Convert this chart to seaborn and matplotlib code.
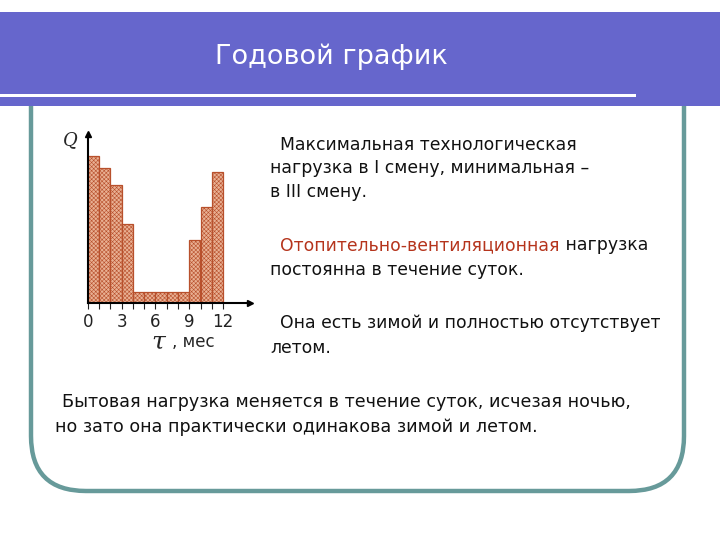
import matplotlib
matplotlib.use("Agg")
import matplotlib.pyplot as plt
from matplotlib.patches import Rectangle, FancyBboxPatch
import numpy as np
import pandas as pd
import seaborn as sns

# ---- data ----
months = [0.5, 1.5, 2.5, 3.5, 4.5, 5.5, 6.5, 7.5, 8.5, 9.5, 10.5, 11.5]
load_q = [147, 135, 118, 79, 11, 11, 11, 11, 11, 63, 96, 131]
tick_vals = [0, 3, 6, 9, 12]
tick_labels = ["0", "3", "6", "9", "12"]

title = "Годовой график"
lines_top = ["Максимальная технологическая",
             "нагрузка в I смену, минимальная –",
             "в III смену."]
red_part = "Отопительно-вентиляционная"
lines_mid = [" нагрузка", "постоянна в течение суток."]
lines_low = ["Она есть зимой и полностью отсутствует", "летом."]
lines_bottom = ["Бытовая нагрузка меняется в течение суток, исчезая ночью,",
                "но зато она практически одинакова зимой и летом."]

sns.set_style("white")
plt.rcParams["font.family"] = ["DejaVu Sans"]
plt.rcParams["hatch.linewidth"] = 0.4

fig = plt.figure(figsize=(7.2, 5.4), dpi=100)
bg = fig.add_axes([0, 0, 1, 1])
bg.set_xlim(0, 720)
bg.set_ylim(540, 0)
bg.axis("off")

# frame (rounded, teal)
frame = FancyBboxPatch((31, 20), 653, 471, boxstyle="round,pad=0,rounding_size=55",
                       fill=False, edgecolor="#679a9a", linewidth=3.2, zorder=1)
bg.add_patch(frame)
# banner
bg.add_patch(Rectangle((0, 12), 720, 94, facecolor="#6666cc", edgecolor="none", zorder=2))
bg.add_patch(Rectangle((0, 93.5), 636, 3.5, facecolor="white", edgecolor="none", zorder=3))
bg.text(331, 57, title, color="white", fontsize=19.5, ha="center", va="center", zorder=4)

fs = 12.4
for y, s, x in zip([145, 168, 192], lines_top, [280, 270, 270]):
    bg.text(x, y, s, fontsize=fs, ha="left", va="center", color="#111111")

t_red = bg.text(280, 245, red_part, fontsize=fs, ha="left", va="center", color="#b5341c")
fig.canvas.draw()
bb = t_red.get_window_extent(fig.canvas.get_renderer())
x_end = bb.x1 * 720 / fig.bbox.width
bg.text(x_end, 245, lines_mid[0], fontsize=fs, ha="left", va="center", color="#111111")
bg.text(270, 270, lines_mid[1], fontsize=fs, ha="left", va="center", color="#111111")
bg.text(280, 323, lines_low[0], fontsize=fs, ha="left", va="center", color="#111111")
bg.text(270, 348, lines_low[1], fontsize=fs, ha="left", va="center", color="#111111")
bg.text(62, 402, lines_bottom[0], fontsize=12.6, ha="left", va="center", color="#111111")
bg.text(55, 427, lines_bottom[1], fontsize=12.6, ha="left", va="center", color="#111111")

# axis labels of chart (slide text)
bg.text(70, 140, "Q", fontsize=13, style="italic", family="DejaVu Serif", ha="center", va="center")
bg.text(158, 342, "τ", fontsize=18, style="italic", family="DejaVu Serif", ha="center", va="center")
bg.text(172, 342, ", мес", fontsize=12, ha="left", va="center")

# ---- chart ----
px_per_month = 11.28
ax = fig.add_axes([87.7 / 720, (540 - 303.3) / 540, 162.4 / 720, 169 / 540])
ax.patch.set_alpha(0)
df = pd.DataFrame({"month": months, "Q": load_q})
sns.barplot(data=df, x="month", y="Q", native_scale=True, width=1, color="#e9b093",
            saturation=1, errorbar=None, ax=ax, linewidth=0.9, edgecolor="#b04a2c")
for p in ax.patches:
    p.set_hatch("xxxxxxxx")
    p.set_edgecolor("#b8502c")

ax.set_xlim(0, 162.4 / px_per_month)
ax.set_ylim(0, 169)
ax.set_xlabel("")
ax.set_ylabel("")
ax.set_yticks([])
ax.set_xticks(tick_vals)
ax.set_xticklabels(tick_labels, fontsize=12)
ax.set_xticks(range(13), minor=True)
ax.tick_params(axis="x", which="both", direction="out", length=4, width=0.8,
               colors="#222222", pad=3, bottom=True)
for side in ["top", "right"]:
    ax.spines[side].set_visible(False)
for side in ["left", "bottom"]:
    ax.spines[side].set_color("black")
    ax.spines[side].set_linewidth(1.5)
ax.plot(1, 0, ">k", markersize=4, transform=ax.transAxes, clip_on=False)
ax.plot(0, 1, "^k", markersize=4, transform=ax.transAxes, clip_on=False)

fig.savefig("out.png", dpi=100)
